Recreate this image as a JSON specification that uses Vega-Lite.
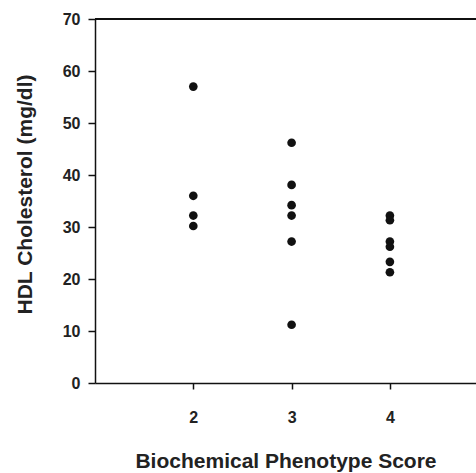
{
  "$schema": "https://vega.github.io/schema/vega-lite/v6.json",
  "autosize": "none",
  "width": 381,
  "height": 364,
  "padding": {"left": 95, "top": 19, "right": 0, "bottom": 90},
  "background": "white",
  "config": {
    "view": {"stroke": null},
    "font": "Liberation Sans",
    "axis": {"grid": false, "domainColor": "#111", "tickColor": "#111", "labelColor": "#222", "titleColor": "#222", "labelFont": "Liberation Sans", "titleFont": "Liberation Sans", "labelFontWeight": "bold", "titleFontWeight": "bold", "domainWidth": 1.5, "tickWidth": 1.5}
  },
  "data": {"values": [
    {"score": 2, "hdl": 57}, {"score": 2, "hdl": 36}, {"score": 2, "hdl": 32.2}, {"score": 2, "hdl": 30.2},
    {"score": 3, "hdl": 46.2}, {"score": 3, "hdl": 38.1}, {"score": 3, "hdl": 34.2}, {"score": 3, "hdl": 32.2}, {"score": 3, "hdl": 27.2}, {"score": 3, "hdl": 11.2},
    {"score": 4, "hdl": 32.2}, {"score": 4, "hdl": 31.3}, {"score": 4, "hdl": 27.2}, {"score": 4, "hdl": 26.2}, {"score": 4, "hdl": 23.3}, {"score": 4, "hdl": 21.3}
  ]},
  "layer": [
    {
      "mark": {"type": "rule", "color": "#111", "strokeWidth": 1.5},
      "encoding": {"y": {"datum": 70, "type": "quantitative"}}
    },
    {
      "mark": {"type": "point", "filled": true, "color": "#111", "opacity": 1, "size": 75},
      "encoding": {
        "x": {"field": "score", "type": "quantitative", "scale": {"domain": [1, 4.876], "nice": false},
          "axis": {"values": [2, 3, 4], "title": "Biochemical Phenotype Score", "labelFontSize": 16, "titleFontSize": 21, "tickSize": 6, "labelPadding": 20, "titlePadding": 25, "format": "d"}},
        "y": {"field": "hdl", "type": "quantitative", "scale": {"domain": [0, 70], "nice": false},
          "axis": {"values": [0, 10, 20, 30, 40, 50, 60, 70], "title": "HDL Cholesterol (mg/dl)", "labelFontSize": 16, "titleFontSize": 21, "tickSize": 7, "labelPadding": 8, "titlePadding": 27, "titleY": 175}}
      }
    }
  ]
}
